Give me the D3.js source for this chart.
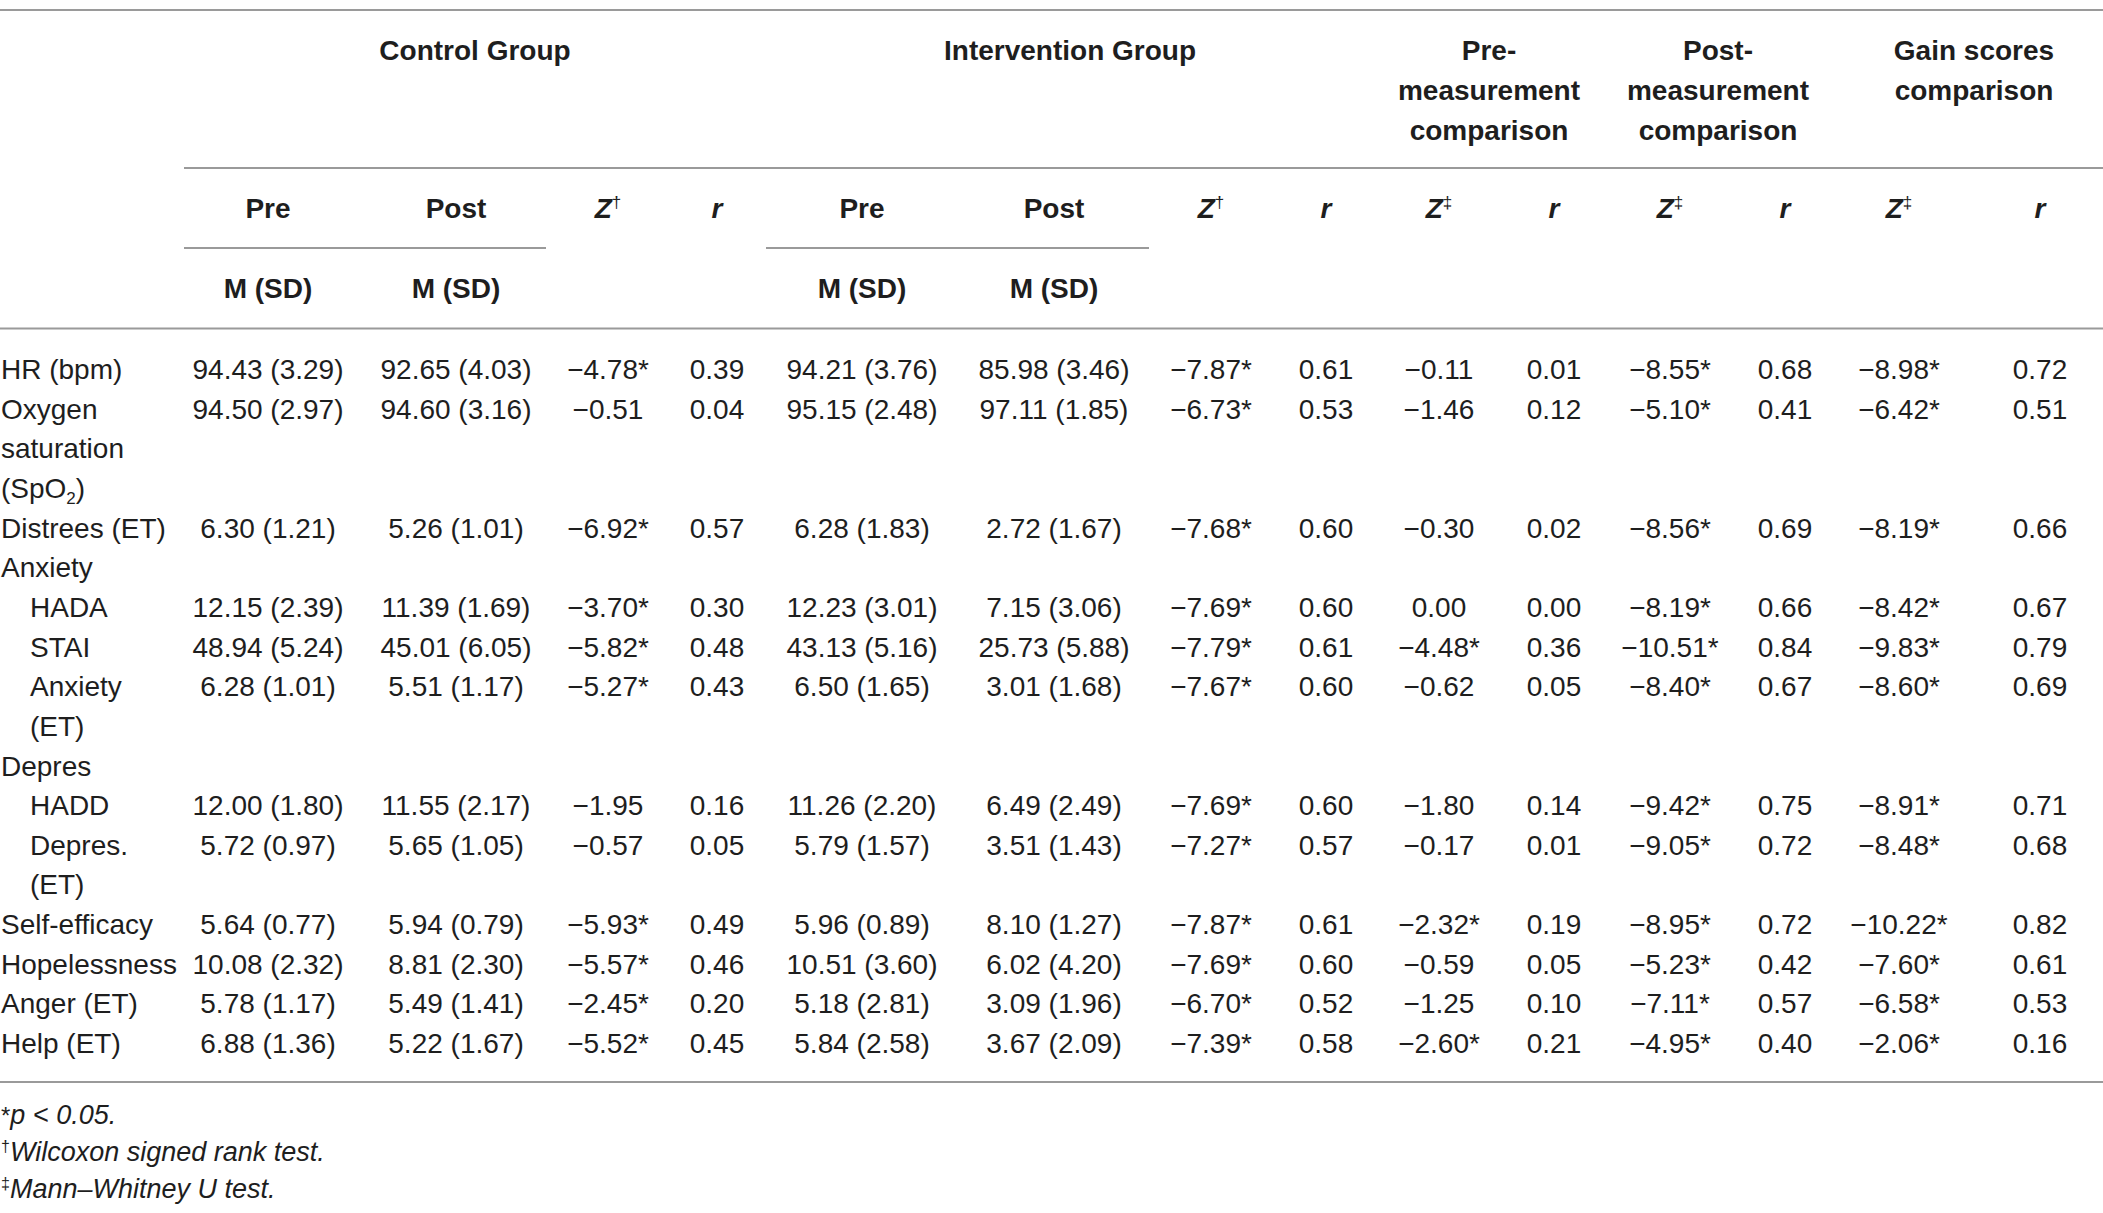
<!DOCTYPE html>
<html>
<head>
<meta charset="utf-8">
<script src="https://cdn.jsdelivr.net/npm/d3@7/dist/d3.min.js"></script>
<style>
html,body{margin:0;padding:0;background:#fff;}
svg{display:block;}
text{font-family:"Liberation Sans",Arial,Helvetica,sans-serif;fill:#1e1e1e;}
</style>
</head>
<body>
<svg id="chart" width="2103" height="1213"></svg>
<script>
// ---------- DATA ----------
const rowLabels = ["HR (bpm)", "Oxygen|saturation|(SpO_2)", "Distrees (ET)", "Anxiety", "HADA", "STAI",
  "Anxiety|(ET)", "Depres", "HADD", "Depres.|(ET)", "Self-efficacy", "Hopelessness", "Anger (ET)", "Help (ET)"];
const rowIndent = [0,0,0,0,1,1,1,0,1,1,0,0,0,0];

const ctrlPre  = ["94.43 (3.29)","94.50 (2.97)","6.30 (1.21)",null,"12.15 (2.39)","48.94 (5.24)","6.28 (1.01)",null,"12.00 (1.80)","5.72 (0.97)","5.64 (0.77)","10.08 (2.32)","5.78 (1.17)","6.88 (1.36)"];
const ctrlPost = ["92.65 (4.03)","94.60 (3.16)","5.26 (1.01)",null,"11.39 (1.69)","45.01 (6.05)","5.51 (1.17)",null,"11.55 (2.17)","5.65 (1.05)","5.94 (0.79)","8.81 (2.30)","5.49 (1.41)","5.22 (1.67)"];
const ctrlZ    = ["−4.78*","−0.51","−6.92*",null,"−3.70*","−5.82*","−5.27*",null,"−1.95","−0.57","−5.93*","−5.57*","−2.45*","−5.52*"];
const ctrlR    = ["0.39","0.04","0.57",null,"0.30","0.48","0.43",null,"0.16","0.05","0.49","0.46","0.20","0.45"];
const intPre   = ["94.21 (3.76)","95.15 (2.48)","6.28 (1.83)",null,"12.23 (3.01)","43.13 (5.16)","6.50 (1.65)",null,"11.26 (2.20)","5.79 (1.57)","5.96 (0.89)","10.51 (3.60)","5.18 (2.81)","5.84 (2.58)"];
const intPost  = ["85.98 (3.46)","97.11 (1.85)","2.72 (1.67)",null,"7.15 (3.06)","25.73 (5.88)","3.01 (1.68)",null,"6.49 (2.49)","3.51 (1.43)","8.10 (1.27)","6.02 (4.20)","3.09 (1.96)","3.67 (2.09)"];
const intZ     = ["−7.87*","−6.73*","−7.68*",null,"−7.69*","−7.79*","−7.67*",null,"−7.69*","−7.27*","−7.87*","−7.69*","−6.70*","−7.39*"];
const intR     = ["0.61","0.53","0.60",null,"0.60","0.61","0.60",null,"0.60","0.57","0.61","0.60","0.52","0.58"];
const preZ     = ["−0.11","−1.46","−0.30",null,"0.00","−4.48*","−0.62",null,"−1.80","−0.17","−2.32*","−0.59","−1.25","−2.60*"];
const preR     = ["0.01","0.12","0.02",null,"0.00","0.36","0.05",null,"0.14","0.01","0.19","0.05","0.10","0.21"];
const postZ    = ["−8.55*","−5.10*","−8.56*",null,"−8.19*","−10.51*","−8.40*",null,"−9.42*","−9.05*","−8.95*","−5.23*","−7.11*","−4.95*"];
const postR    = ["0.68","0.41","0.69",null,"0.66","0.84","0.67",null,"0.75","0.72","0.72","0.42","0.57","0.40"];
const gainZ    = ["−8.98*","−6.42*","−8.19*",null,"−8.42*","−9.83*","−8.60*",null,"−8.91*","−8.48*","−10.22*","−7.60*","−6.58*","−2.06*"];
const gainR    = ["0.72","0.51","0.66",null,"0.67","0.79","0.69",null,"0.71","0.68","0.82","0.61","0.53","0.16"];

const columnKeys = ["ctrlPre","ctrlPost","ctrlZ","ctrlR","intPre","intPost","intZ","intR","preZ","preR","postZ","postR","gainZ","gainR"];
const columnValues = [ctrlPre,ctrlPost,ctrlZ,ctrlR,intPre,intPost,intZ,intR,preZ,preR,postZ,postR,gainZ,gainR];
const subHeaders = ["Pre","Post","Z†","r","Pre","Post","Z†","r","Z‡","r","Z‡","r","Z‡","r"];
const groupHeaders = [
  {key:"ctrl", lines:["Control Group"]},
  {key:"int", lines:["Intervention Group"]},
  {key:"pre", lines:["Pre-","measurement","comparison"]},
  {key:"post", lines:["Post-","measurement","comparison"]},
  {key:"gain", lines:["Gain scores","comparison"]}
];
const footnotes = [["*","p < 0.05."],["†","Wilcoxon signed rank test."],["‡","Mann–Whitney U test."]];

// ---------- LAYOUT ----------
const W = 2103, H = 1213;
const svg = d3.select("#chart");
const FS = 28;
const BL = 0.36 * FS; // baseline offset from row centre
const lineColor = "#9a9a9a";

const xCol = d3.scaleOrdinal().domain(columnKeys)
  .range([268,456,608,717,862,1054,1211,1326,1439,1554,1670,1785,1899,2040]);
const xGroup = d3.scaleOrdinal().domain(["ctrl","int","pre","post","gain"])
  .range([475,1070,1489,1718,1974]);
const yLine = d3.scaleLinear().domain([0,17]).range([369,1043]);
const yHead = d3.scaleLinear().domain([0,1]).range([49.5,89.5]);

function hline(x1,x2,y){
  svg.append("line").attr("x1",x1).attr("x2",x2).attr("y1",y).attr("y2",y)
    .attr("stroke",lineColor).attr("stroke-width",2);
}
hline(0,W,10);
hline(184,W,168);
hline(184,546,248);
hline(766,1149,248);
hline(0,W,328.5);
hline(0,W,1082);

// group headers
groupHeaders.forEach(g=>{
  g.lines.forEach((ln,i)=>{
    svg.append("text").attr("x",xGroup(g.key)).attr("y",yHead(i)+BL)
      .attr("text-anchor","middle").attr("font-size",FS).attr("font-weight","bold").text(ln);
  });
});

// sub headers
columnKeys.forEach((k,i)=>{
  const h = subHeaders[i];
  const t = svg.append("text").attr("x",xCol(k)).attr("y",208+BL)
    .attr("text-anchor","middle").attr("font-size",FS).attr("font-weight","bold");
  if(h==="Pre"||h==="Post"){ t.text(h); }
  else if(h==="r"){ t.attr("font-style","italic").text("r"); }
  else {
    t.append("tspan").attr("font-style","italic").text("Z");
    t.append("tspan").attr("font-size",17).attr("font-weight","normal").attr("dy",-10).text(h.slice(1));
  }
});
["ctrlPre","ctrlPost","intPre","intPost"].forEach(k=>{
  svg.append("text").attr("x",xCol(k)).attr("y",288+BL)
    .attr("text-anchor","middle").attr("font-size",FS).attr("font-weight","bold").text("M (SD)");
});

// rows
let lineIdx = 0;
const rows = rowLabels.map((lab,i)=>{
  const r = {lines: lab.split("|"), indent: rowIndent[i], start: lineIdx, idx:i};
  lineIdx += r.lines.length;
  return r;
});

const rowG = svg.selectAll("g.row").data(rows).enter().append("g").attr("class","row");
rowG.each(function(r){
  const g = d3.select(this);
  r.lines.forEach((ln,j)=>{
    const t = g.append("text").attr("x", 1 + r.indent*29).attr("y", yLine(r.start+j)+BL)
      .attr("font-size",FS);
    if(ln.includes("_")){
      const [a,b] = ln.split("_");
      t.append("tspan").text(a);
      t.append("tspan").attr("font-size",17).attr("dy",6).text(b.slice(0,1));
      t.append("tspan").attr("dy",-6).text(b.slice(1));
    } else t.text(ln);
  });
  columnKeys.forEach((k,c)=>{
    const v = columnValues[c][r.idx];
    if(v==null) return;
    g.append("text").attr("x",xCol(k)).attr("y",yLine(r.start)+BL)
      .attr("text-anchor","middle").attr("font-size",FS).text(v);
  });
});

// footnotes
const yFoot = d3.scaleLinear().domain([0,2]).range([1114.5,1188]);
footnotes.forEach((f,i)=>{
  const t = svg.append("text").attr("x",1).attr("y",yFoot(i)+0.36*27)
    .attr("font-size",27).attr("font-style","italic");
  if(i===0){
    t.append("tspan").attr("font-style","normal").attr("font-size",24).text(f[0]);
    t.append("tspan").text(f[1]);
  } else {
    t.append("tspan").attr("font-size",16).attr("font-style","normal").attr("dy",-9).text(f[0]);
    t.append("tspan").attr("dy",9).text(f[1]);
  }
});
</script>
</body>
</html>
